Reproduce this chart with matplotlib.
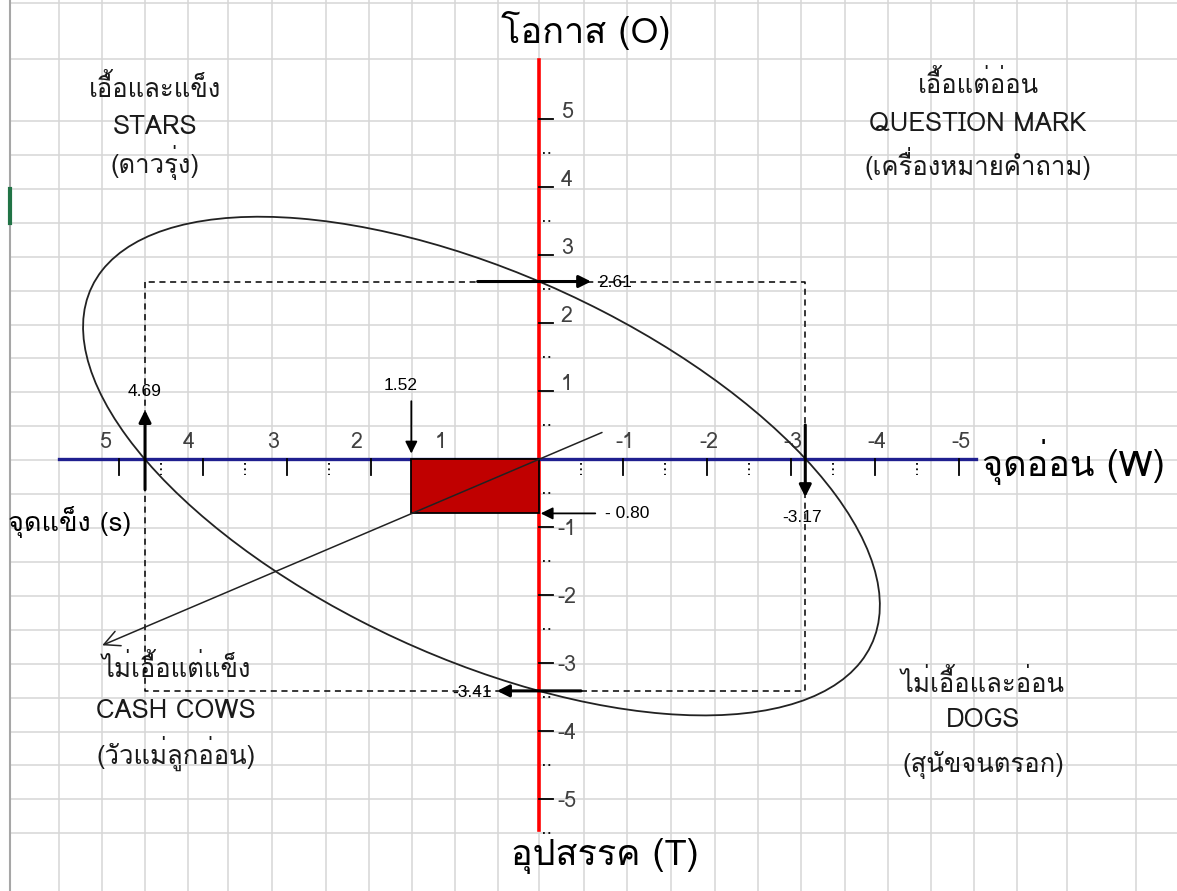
import matplotlib
matplotlib.use("Agg")
import matplotlib.pyplot as plt
from matplotlib.patches import Ellipse, Rectangle

THAI = ['Loma', 'IBM Plex Sans Thai Looped', 'DejaVu Sans']
NUM = ['Liberation Sans', 'DejaVu Sans']

# values
s_val = 4.69      # strengths
w_val = -3.17     # weaknesses
o_val = 2.61      # opportunities
t_val = -3.41     # threats
mid_x = 1.52
mid_y = -0.80
x_ticks = [5, 4, 3, 2, 1, -1, -2, -3, -4, -5]
y_ticks = [5, 4, 3, 2, 1, -1, -2, -3, -4, -5]

# ellipse through the four intercepts (centre, full width, full height, angle)
ell_center = (0.685, -0.104)
ell_width = 10.71
ell_height = 5.39
ell_angle = 32.5

# strategy line (two end points) through the origin and (mid_x, mid_y)
line_x = [-0.75, 5.2]
line_y = [0.39, -2.74]

# spreadsheet grid behind the chart, in pixels
col_edges = [10, 59, 102, 145, 188, 228, 272, 326, 369, 412, 455, 498, 539,
             584, 627, 671, 715, 758, 801, 845, 888, 931, 974, 1017, 1067, 1136]
row_edges = [3, 59, 121, 155, 189, 223, 257, 291, 325, 358, 392, 426, 460, 494,
             528, 562, 596, 630, 664, 698, 732, 765, 799, 833]

W_PX, H_PX = 1177, 891
fig = plt.figure(figsize=(W_PX / 100, H_PX / 100), dpi=100)
fig.patch.set_facecolor('white')

bg = fig.add_axes([0, 0, 1, 1])
bg.set_xlim(0, W_PX)
bg.set_ylim(H_PX, 0)
bg.axis('off')
for c in col_edges[1:]:
    bg.plot([c, c], [0, H_PX], color='#d6d6d6', lw=1.1, zorder=0)
for r in row_edges:
    bg.plot([10, W_PX], [r, r], color='#d6d6d6', lw=1.1, zorder=0)
bg.plot([10, 10], [0, H_PX], color='#a6a6a6', lw=1.5, zorder=1)
bg.plot([10, 10], [189, 223], color='#217346', lw=3, zorder=2)

# main chart axes, x reversed (strengths on the left)
sx, sy = 84.0, 68.0
x0, y0 = 539, 459
ax = fig.add_axes([0, 0, 1, 1])
ax.patch.set_alpha(0)
ax.set_xlim(x0 / sx, -(W_PX - x0) / sx)
ax.set_ylim(-(H_PX - y0) / sy, y0 / sy)
ax.axis('off')

# axes lines
ax.plot([0, 0], [5.87, -5.46], color='#ff0000', lw=2.6, zorder=3)
ax.plot([5.71, -5.2], [0, 0], color='#1f1f8f', lw=2.4, zorder=3)

# y ticks (right of the red line)
for t in y_ticks:
    ax.plot([0, -0.17], [t, t], color='black', lw=1.3, zorder=4)
    m = t - 0.5 if t > 0 else t + 0.5
    ax.plot([-0.05, -0.17], [m, m], color='black', lw=1.3, ls=(0, (1, 2)), zorder=4)
    ax.text(-0.33, t + (0.1 if t > 0 else -0.03), str(t), ha='center', va='center',
            fontsize=15.5, color='#404040', family=THAI)
ax.plot([-0.05, -0.17], [-5.5, -5.5], color='black', lw=1.3, ls=(0, (1, 2)), zorder=4)

# x ticks (below the blue line)
for t in x_ticks:
    ax.plot([t, t], [0, -0.24], color='black', lw=1.3, zorder=4)
    m = t - 0.5 if t > 0 else t + 0.5
    ax.plot([m, m], [-0.06, -0.24], color='black', lw=1.3, ls=(0, (1, 2)), zorder=4)
    ax.text(t + 0.17 if t > 0 else t - 0.02, 0.24, str(t), ha='center', va='center',
            fontsize=15.5, color='#404040', family=THAI)

# ellipse
ax.add_patch(Ellipse(ell_center, ell_width, ell_height, angle=ell_angle,
                     fill=False, edgecolor='#222222', lw=1.3, zorder=5))

# dashed box
ax.plot([s_val, s_val, w_val, w_val, s_val], [o_val, t_val, t_val, o_val, o_val],
        color='black', lw=1.1, ls=(0, (4, 3)), zorder=4)

# red box
ax.add_patch(Rectangle((0, mid_y), mid_x, -mid_y, facecolor='#c00000',
                       edgecolor='black', lw=1.3, zorder=6))

# strategy line with open head
ax.annotate('', xy=(line_x[1], line_y[1]), xytext=(line_x[0], line_y[0]),
            arrowprops=dict(arrowstyle='->', lw=1.1, color='#222222',
                            mutation_scale=28, shrinkA=0, shrinkB=0), zorder=7)

thick = dict(arrowstyle='-|>', lw=2.2, color='black', mutation_scale=18,
             shrinkA=0, shrinkB=0)
thin = dict(arrowstyle='-|>', lw=1.3, color='black', mutation_scale=18,
            shrinkA=0, shrinkB=0)

# S arrow
ax.annotate('', xy=(s_val, 0.72), xytext=(s_val, -0.45), arrowprops=thick, zorder=8)
ax.text(s_val, 0.99, f'{s_val:.2f}', ha='center', va='center', fontsize=12.5, family=NUM)
# W arrow
ax.annotate('', xy=(w_val, -0.56), xytext=(w_val, 0.5), arrowprops=thick, zorder=8)
ax.text(w_val + 0.04, -0.86, f'{w_val:.2f}', ha='center', va='center', fontsize=12.5, family=NUM)
# O arrow
ax.annotate('', xy=(-0.62, o_val), xytext=(0.73, o_val), arrowprops=thick, zorder=8)
ax.text(-0.7, o_val - 0.02, f'{o_val:.2f}', ha='left', va='center', fontsize=12.5, family=NUM)
# T arrow
ax.annotate('', xy=(0.5, t_val), xytext=(-0.5, t_val), arrowprops=thick, zorder=8)
ax.text(0.56, t_val - 0.02, f'{t_val:.2f}', ha='right', va='center', fontsize=12.5, family=NUM)
# mid x arrow
ax.annotate('', xy=(mid_x, 0.08), xytext=(mid_x, 0.85), arrowprops=thin, zorder=8)
ax.text(mid_x + 0.13, 1.08, f'{mid_x:.2f}', ha='center', va='center', fontsize=12.5, family=NUM)
# mid y arrow
ax.annotate('', xy=(-0.02, mid_y), xytext=(-0.67, mid_y), arrowprops=thin, zorder=8)
ax.text(-0.79, mid_y, f'- {abs(mid_y):.2f}', ha='left', va='center', fontsize=12.5, family=NUM)

# axis titles
bg.text(586, 30, 'โอกาส (O)', ha='center', va='center', fontsize=26, family=THAI)
bg.text(605, 856, 'อุปสรรค (T)', ha='center', va='center', fontsize=26, family=THAI)
bg.text(982, 462, 'จุดอ่อน (W)', ha='left', va='center', fontsize=26, family=THAI)
bg.text(8, 522, 'จุดแข็ง (s)', ha='left', va='center', fontsize=19.5, family=THAI)

# quadrant labels
quad = [
    (155, [88, 127, 163], ['เอื้อและแข็ง', 'STARS', '(ดาวรุ่ง)']),
    (978, [84, 124, 163], ['เอื้อแต่อ่อน', 'QUESTION MARK', '(เครื่องหมายคำถาม)']),
    (176, [668, 711, 753], ['ไม่เอื้อแต่แข็ง', 'CASH COWS', '(วัวแม่ลูกอ่อน)']),
    (983, [683, 720, 765], ['ไม่เอื้อและอ่อน', 'DOGS', '(สุนัขจนตรอก)']),
]
for cx, ys, lines in quad:
    for yy, s in zip(ys, lines):
        bg.text(cx, yy, s, ha='center', va='center', fontsize=18.5, family=THAI,
                color='#1a1a1a')

fig.savefig('out.png', dpi=100)
